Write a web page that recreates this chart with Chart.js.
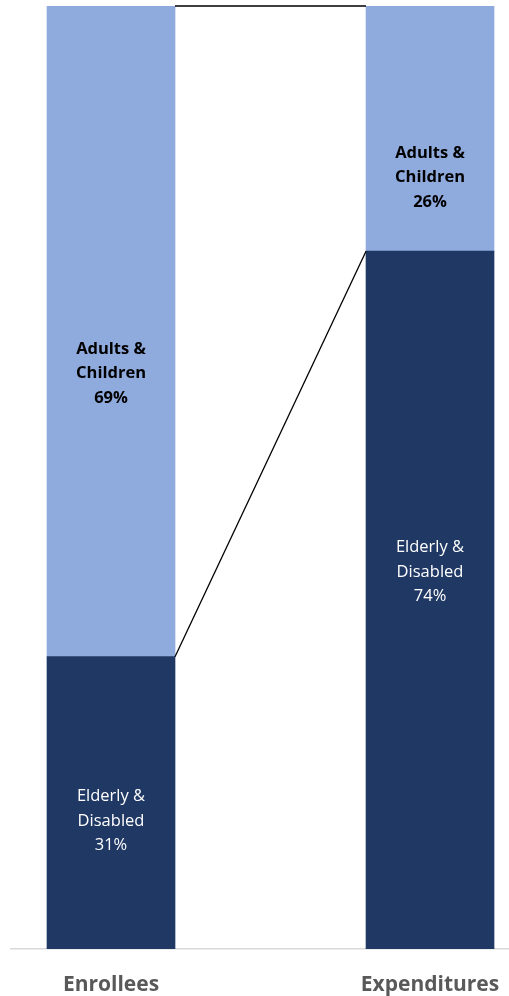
<!DOCTYPE html>
<html lang="en">
<head>
    <meta charset="UTF-8">
    <title>Enrollees vs Expenditures</title>
    <script src="https://cdn.jsdelivr.net/npm/chart.js@4.4.0/dist/chart.umd.min.js"></script>
    <style>
        html, body { margin: 0; padding: 0; background: #fff; }
        #wrap { width: 509px; height: 996px; position: relative; }
    </style>
</head>
<body>
    <div id="wrap"><canvas id="chart"></canvas></div>

    <script>
        const categories = ['Enrollees', 'Expenditures'];
        const elderlyDisabled = [31, 74];
        const adultsChildren = [69, 26];
        const seriesLabels = [['Elderly &', 'Disabled'], ['Adults &', 'Children']];

        // label look per series (dark segment gets white text, light one bold black)
        const labelStyle = [
            { color: '#ffffff', font: '16.5px "Open Sans"', shift: [18, -28] },
            { color: '#000000', font: 'bold 16.5px "Open Sans"', shift: [42, 49] }
        ];

        const seriesLines = {
            id: 'seriesLines',
            afterDatasetsDraw(chart) {
                const ctx = chart.ctx;
                ctx.save();
                ctx.strokeStyle = '#000';
                ctx.lineWidth = 1.3;
                chart.data.datasets.forEach((ds, i) => {
                    const bars = chart.getDatasetMeta(i).data;
                    for (let j = 0; j < bars.length - 1; j++) {
                        const a = bars[j], b = bars[j + 1];
                        ctx.beginPath();
                        ctx.moveTo(a.x + a.width / 2, a.y);
                        ctx.lineTo(b.x - b.width / 2, b.y);
                        ctx.stroke();
                    }
                });
                ctx.restore();
            }
        };

        const segmentLabels = {
            id: 'segmentLabels',
            afterDatasetsDraw(chart) {
                const ctx = chart.ctx;
                ctx.save();
                ctx.textAlign = 'center';
                ctx.textBaseline = 'middle';
                chart.data.datasets.forEach((ds, i) => {
                    const st = labelStyle[i];
                    ctx.fillStyle = st.color;
                    ctx.font = st.font;
                    chart.getDatasetMeta(i).data.forEach((bar, j) => {
                        const lines = seriesLabels[i].concat([ds.data[j].y + '%']);
                        const cy = (bar.y + bar.base) / 2 + st.shift[j];
                        lines.forEach((t, k) => {
                            ctx.fillText(t, bar.x, cy + (k - 1) * 24.5);
                        });
                    });
                });
                ctx.restore();
            }
        };

        new Chart(document.getElementById('chart'), {
            type: 'bar',
            data: {
                datasets: [
                    {
                        label: 'Elderly & Disabled',
                        data: elderlyDisabled.map((v, i) => ({ x: i, y: v })),
                        backgroundColor: '#203864'
                    },
                    {
                        label: 'Adults & Children',
                        data: adultsChildren.map((v, i) => ({ x: i, y: v })),
                        backgroundColor: '#8FAADC'
                    }
                ]
            },
            options: {
                responsive: true,
                maintainAspectRatio: false,
                animation: false,
                barThickness: 128,
                layout: { padding: { top: 6, left: 11, right: 0, bottom: 0 } },
                plugins: { legend: { display: false }, tooltip: { enabled: false } },
                scales: {
                    x: {
                        type: 'linear',
                        offset: false,
                        stacked: true,
                        min: -0.3135,
                        max: 1.2476,
                        afterBuildTicks: (scale) => { scale.ticks = categories.map((c, i) => ({ value: i })); },
                        afterFit: (scale) => {
                            scale.height = 47;
                            scale.paddingLeft = 0;
                            scale.paddingRight = 0;
                        },
                        grid: { display: false, drawTicks: false },
                        border: { display: true, color: '#d9d9d9', width: 1.5 },
                        ticks: {
                            padding: 23,
                            color: '#595959',
                            font: { family: 'Open Sans', size: 21, weight: 'bold' },
                            callback: (v) => categories[v]
                        }
                    },
                    y: {
                        stacked: true,
                        min: 0,
                        max: 100,
                        display: false
                    }
                }
            },
            plugins: [seriesLines, segmentLabels]
        });
    </script>
</body>
</html>
